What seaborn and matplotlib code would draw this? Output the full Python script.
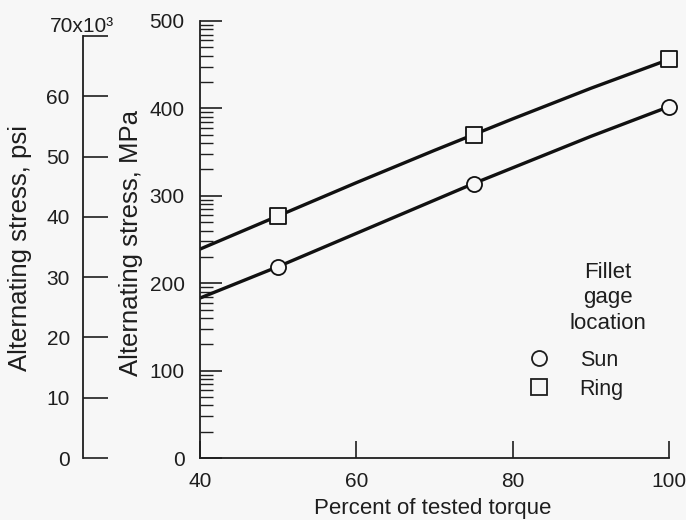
import numpy as np
import matplotlib
matplotlib.use('Agg')
import matplotlib.pyplot as plt
from matplotlib.lines import Line2D
from matplotlib.transforms import offset_copy
import seaborn as sns

# values (stress in MPa)
torque_curve = [40, 50, 60, 70, 75, 80, 90, 100]
sun_curve = [183, 219, 257, 295, 314, 332, 368, 402]
ring_curve = [239, 277, 315, 352, 370, 388, 423, 456]

torque_points = [50, 75, 100]
sun_points = [219, 314, 402]
ring_points = [277, 370, 457]

x_ticks = [40, 60, 80, 100]
mpa_ticks = [0, 100, 200, 300, 400, 500]
psi_ticks = [0, 10, 20, 30, 40, 50, 60, 70]
psi_labels = ['0', '10', '20', '30', '40', '50', '60', '']
legend_labels = ['Sun', 'Ring']

MPA_PER_KSI = 6.894757

sns.set_style('ticks')
plt.rcParams['font.family'] = ['Liberation Sans', 'DejaVu Sans']
ink = '#1e1e1e'
bg = '#f7f7f7'
plt.rcParams.update({
    'text.color': ink, 'axes.labelcolor': ink,
    'xtick.color': ink, 'ytick.color': ink, 'axes.edgecolor': ink,
    'axes.linewidth': 1.3,
})

fig = plt.figure(figsize=(6.86, 5.2), dpi=100, facecolor=bg)
ax = fig.add_axes([200 / 686, 62 / 520, 469 / 686, 437 / 520])
ax.set_facecolor('none')

# fitted curves
for ys in (sun_curve, ring_curve):
    sns.lineplot(x=torque_curve, y=ys, color='#111111', lw=2.4,
                 estimator=None, ax=ax, zorder=2)

# open markers on top of the curves
sns.scatterplot(x=torque_points, y=sun_points, marker='o', s=118,
                color=bg, ax=ax, zorder=3, clip_on=False)
ax.collections[-1].set_edgecolor('#111111')
ax.collections[-1].set_linewidth(1.3)
sns.scatterplot(x=torque_points, y=ring_points, marker='s', s=130,
                color=bg, ax=ax, zorder=3, clip_on=False)
ax.collections[-1].set_edgecolor('#111111')
ax.collections[-1].set_linewidth(1.3)

ax.set_xlim(40, 100)
ax.set_ylim(0, 500)
sns.despine(ax=ax)
ax.set_xticks(x_ticks)
ax.set_yticks(mpa_ticks)
# log-like minor ticks inside each 100 MPa band
minor = [100 * n + 100 * np.log10(k) for n in range(5) for k in range(2, 10)]
ax.set_yticks(minor, minor=True)
ax.tick_params(axis='x', direction='in', length=12, width=1.2, pad=10, labelsize=15)
ax.tick_params(axis='y', which='major', direction='in', length=16, width=1.2,
               pad=11, labelsize=15)
ax.tick_params(axis='y', which='minor', direction='in', length=9, width=1.0)

ax.set_xlabel('Percent of tested torque', fontsize=16)
ax.xaxis.set_label_coords(0.497, -0.0915)
ax.set_ylabel('Alternating stress, MPa', fontsize=18.5)
ax.yaxis.set_label_coords(-0.1215, 0.493)

# second stress axis in ksi
ax2 = ax.twinx()
ax2.patch.set_visible(False)
for side in ['right', 'top', 'bottom']:
    ax2.spines[side].set_visible(False)
ax2.spines['left'].set_visible(True)
ax2.spines['left'].set_position(('outward', 84.2))
ax2.spines['left'].set_bounds(0, 70)
ax2.yaxis.set_ticks_position('left')
ax2.yaxis.set_label_position('left')
ax2.set_ylim(0, 500 / MPA_PER_KSI)
ax2.set_yticks(psi_ticks, psi_labels)
ax2.tick_params(axis='y', direction='in', length=18, width=1.2, pad=9.5, labelsize=15)
ax2.set_ylabel('Alternating stress, psi', fontsize=18.5)
ax2.yaxis.set_label_coords(-0.358, 0.48)

top_trans = offset_copy(ax2.get_yaxis_transform(), fig=fig, x=-150, y=4, units='dots')
ax2.text(0, psi_ticks[-1], '70x10³', transform=top_trans, ha='left',
         va='baseline', fontsize=15)

# legend
handles = [
    Line2D([], [], marker='o', ls='', mfc='none', mec=ink, ms=10.8, mew=1.3),
    Line2D([], [], marker='s', ls='', mfc='none', mec=ink, ms=11.2, mew=1.3),
]
ax.legend(handles, legend_labels, loc='upper left',
          bbox_to_anchor=(528 / 686, 1 - 350 / 520), bbox_transform=fig.transFigure,
          frameon=False, fontsize=15.5, handlelength=1.0, handletextpad=1.4,
          borderpad=0, borderaxespad=0, labelspacing=0.35)
fig.text(608 / 686, 1 - 298 / 520, 'Fillet\ngage\nlocation', ha='center',
         va='center', fontsize=16, linespacing=1.27)

fig.savefig('out.png', dpi=100, facecolor=fig.get_facecolor())
